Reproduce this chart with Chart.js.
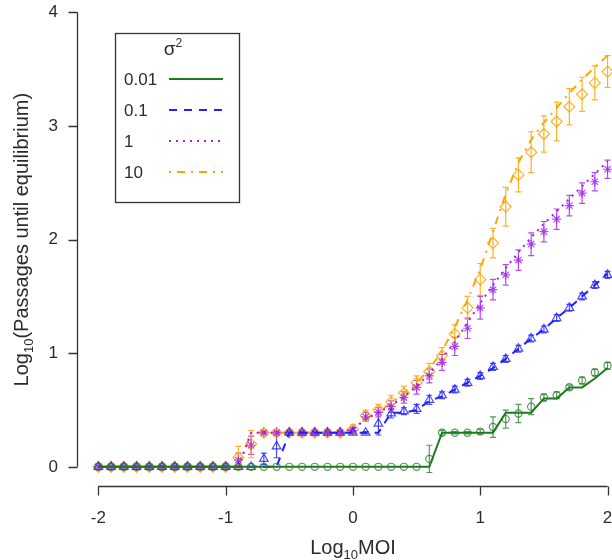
<!DOCTYPE html>
<html>
<head>
<meta charset="utf-8">
<script src="https://cdn.jsdelivr.net/npm/chart.js@4.4.0/dist/chart.umd.min.js"></script>
<style>
  html, body { margin: 0; padding: 0; background: #fff; overflow: hidden; }
  #moiChart { display: block; }
</style>
</head>
<body>
<canvas id="moiChart" width="612" height="560" style="width:612px;height:560px"></canvas>
<script>
// log10 MOI grid, one simulation per 0.1 step
const logMoi = [
  -2.0, -1.9, -1.8, -1.7, -1.6, -1.5, -1.4, -1.3, -1.2, -1.1,
  -1.0, -0.9, -0.8, -0.7, -0.6, -0.5, -0.4, -0.3, -0.2, -0.1,
   0.0,  0.1,  0.2,  0.3,  0.4,  0.5,  0.6,  0.7,  0.8,  0.9,
   1.0,  1.1,  1.2,  1.3,  1.4,  1.5,  1.6,  1.7,  1.8,  1.9, 2.0
];
const xTicks = [-2, -1, 0, 1, 2];
const yTicks = [0, 1, 2, 3, 4];
const sigmaLabels = ['0.01', '0.1', '1', '10'];

// sigma^2 = 0.01
const curve001 = [
  0, 0, 0, 0, 0, 0, 0, 0, 0, 0,
  0, 0, 0, 0, 0, 0, 0, 0, 0, 0,
  0, 0, 0, 0, 0, 0, 0, 0.301, 0.301, 0.301,
  0.301, 0.301, 0.477, 0.477, 0.477, 0.602, 0.602, 0.699, 0.699, 0.778, 0.87
];
const mean001 = [
  0, 0, 0, 0, 0, 0, 0, 0, 0, 0,
  0, 0, 0, 0, 0, 0, 0, 0, 0, 0,
  0, 0, 0, 0, 0, 0, 0.07, 0.30, 0.30, 0.30,
  0.31, 0.35, 0.42, 0.47, 0.53, 0.61, 0.63, 0.70, 0.76, 0.83, 0.89
];
const err001 = [
  0, 0, 0, 0, 0, 0, 0, 0, 0, 0,
  0, 0, 0, 0, 0, 0, 0, 0, 0, 0,
  0, 0, 0, 0, 0, 0, 0.12, 0.02, 0.01, 0.01,
  0.02, 0.09, 0.08, 0.08, 0.07, 0.03, 0.03, 0.02, 0.03, 0.03, 0.03
];

// sigma^2 = 0.1
const curve01 = [
  0, 0, 0, 0, 0, 0, 0, 0, 0, 0,
  0, 0, 0, 0, 0, 0.301, 0.301, 0.301, 0.301, 0.301,
  0.301, 0.301, 0.301, 0.477, 0.477, 0.50, 0.58, 0.62, 0.68, 0.74,
  0.80, 0.87, 0.95, 1.04, 1.13, 1.21, 1.31, 1.40, 1.50, 1.60, 1.70
];
const mean01 = [
  0, 0, 0, 0, 0, 0, 0, 0, 0, 0,
  0, 0, 0, 0.07, 0.18, 0.30, 0.30, 0.30, 0.30, 0.30,
  0.30, 0.30, 0.38, 0.47, 0.49, 0.51, 0.59, 0.63, 0.68, 0.74,
  0.80, 0.88, 0.95, 1.04, 1.13, 1.21, 1.31, 1.40, 1.50, 1.60, 1.69
];
const err01 = [
  0, 0, 0, 0, 0, 0, 0, 0, 0, 0,
  0, 0, 0, 0.05, 0.10, 0.01, 0.01, 0.01, 0.01, 0.01,
  0.01, 0.01, 0.10, 0.04, 0.03, 0.04, 0.04, 0.03, 0.03, 0.03,
  0.03, 0.03, 0.03, 0.03, 0.03, 0.03, 0.03, 0.03, 0.03, 0.03, 0.03
];

// sigma^2 = 1
const curve1 = [
  0, 0, 0, 0, 0, 0, 0, 0, 0, 0,
  0, 0, 0.301, 0.301, 0.301, 0.301, 0.301, 0.301, 0.301, 0.301,
  0.33, 0.42, 0.48, 0.54, 0.62, 0.71, 0.82, 0.95, 1.10, 1.27,
  1.44, 1.60, 1.75, 1.89, 2.02, 2.14, 2.25, 2.36, 2.47, 2.58, 2.69
];
const mean1 = [
  0, 0, 0, 0, 0, 0, 0, 0, 0, 0,
  0, 0.06, 0.19, 0.30, 0.30, 0.30, 0.30, 0.30, 0.30, 0.30,
  0.32, 0.44, 0.48, 0.53, 0.61, 0.70, 0.80, 0.92, 1.06, 1.22,
  1.40, 1.56, 1.69, 1.82, 1.96, 2.07, 2.18, 2.30, 2.41, 2.51, 2.62
];
const err1 = [
  0, 0, 0, 0, 0, 0, 0, 0, 0, 0,
  0, 0.06, 0.08, 0.01, 0.01, 0.01, 0.01, 0.01, 0.01, 0.01,
  0.03, 0.04, 0.04, 0.05, 0.05, 0.06, 0.06, 0.07, 0.08, 0.09,
  0.10, 0.09, 0.09, 0.09, 0.10, 0.09, 0.09, 0.09, 0.09, 0.08, 0.08
];

// sigma^2 = 10
const curve10 = [
  0, 0, 0, 0, 0, 0, 0, 0, 0, 0,
  0, 0, 0.301, 0.301, 0.301, 0.301, 0.301, 0.301, 0.301, 0.301,
  0.34, 0.42, 0.49, 0.56, 0.65, 0.74, 0.86, 1.02, 1.23, 1.47,
  1.74, 2.07, 2.40, 2.68, 2.88, 3.03, 3.16, 3.29, 3.41, 3.52, 3.62
];
const mean10 = [
  0, 0, 0, 0, 0, 0, 0, 0, 0, 0,
  0, 0.08, 0.20, 0.30, 0.30, 0.30, 0.30, 0.30, 0.30, 0.30,
  0.33, 0.45, 0.50, 0.57, 0.65, 0.74, 0.84, 0.98, 1.17, 1.40,
  1.65, 1.97, 2.29, 2.57, 2.77, 2.93, 3.04, 3.17, 3.28, 3.38, 3.48
];
const err10 = [
  0, 0, 0, 0, 0, 0, 0, 0, 0, 0,
  0, 0.10, 0.12, 0.02, 0.02, 0.02, 0.02, 0.02, 0.02, 0.02,
  0.04, 0.05, 0.05, 0.06, 0.06, 0.06, 0.07, 0.07, 0.08, 0.10,
  0.14, 0.13, 0.17, 0.15, 0.18, 0.16, 0.17, 0.16, 0.15, 0.15, 0.14
];

const FONT = '"Liberation Sans", Arial, Helvetica, sans-serif';
const INK = '#2b2b2b';

const series = [
  { label: sigmaLabels[0], curve: curve001, mean: mean001, err: err001,
    color: '#1e7a1e', marker: 'rgba(30,122,30,0.75)', dash: [], style: 'circle', r: 3.6 },
  { label: sigmaLabels[1], curve: curve01, mean: mean01, err: err01,
    color: '#1f1fff', marker: 'rgba(31,31,255,0.8)', dash: [8, 7], style: 'triangle', r: 5 },
  { label: sigmaLabels[2], curve: curve1, mean: mean1, err: err1,
    color: '#a020f0', marker: 'rgba(160,32,240,0.8)', dash: [2, 5], style: 'star', r: 4.5 },
  { label: sigmaLabels[3], curve: curve10, mean: mean10, err: err10,
    color: '#ffa500', marker: 'rgba(255,165,0,0.85)', dash: [2, 6, 8, 6], style: 'rectRot', r: 5.5 }
];

const datasets = [];
series.forEach(s => {
  datasets.push({
    type: 'line',
    data: logMoi.map((x, i) => ({ x, y: s.curve[i] })),
    borderColor: s.color,
    borderWidth: 2,
    borderDash: s.dash,
    pointRadius: 0,
    fill: false,
    tension: 0,
    clip: false
  });
  datasets.push({
    type: 'scatter',
    data: logMoi.map((x, i) => ({ x, y: s.mean[i] })),
    errors: s.err,
    showLine: false,
    pointStyle: s.style,
    pointRadius: s.r,
    borderColor: s.marker,
    backgroundColor: 'rgba(0,0,0,0)',
    borderWidth: 1.2,
    clip: false
  });
});

// text run with sub/superscript pieces
function drawScripted(ctx, parts, x, y, align) {
  let total = 0;
  parts.forEach(p => { ctx.font = p.size + 'px ' + FONT; p.w = ctx.measureText(p.t).width; total += p.w; });
  let cx = align === 'center' ? x - total / 2 : x;
  ctx.textAlign = 'left';
  ctx.textBaseline = 'alphabetic';
  parts.forEach(p => {
    ctx.font = p.size + 'px ' + FONT;
    ctx.fillText(p.t, cx, y + (p.dy || 0));
    cx += p.w;
  });
}

const rAxes = {
  id: 'rAxes',
  beforeDatasetsDraw(chart) {
    // error bars sit under the markers
    const { ctx, scales: { x, y } } = chart;
    ctx.save();
    chart.data.datasets.forEach(ds => {
      if (!ds.errors) return;
      ctx.strokeStyle = ds.borderColor;
      ctx.lineWidth = 1.2;
      ds.data.forEach((p, i) => {
        const e = ds.errors[i];
        if (!e) return;
        const px = x.getPixelForValue(p.x);
        const top = y.getPixelForValue(p.y + e);
        const bot = y.getPixelForValue(p.y - e);
        ctx.beginPath();
        ctx.moveTo(px, top); ctx.lineTo(px, bot);
        ctx.moveTo(px - 3, top); ctx.lineTo(px + 3, top);
        ctx.moveTo(px - 3, bot); ctx.lineTo(px + 3, bot);
        ctx.stroke();
      });
    });
    ctx.restore();
  },
  afterDraw(chart) {
    const { ctx, chartArea: a, scales: { x, y } } = chart;
    ctx.save();
    ctx.strokeStyle = '#333';
    ctx.lineWidth = 1.3;

    // y axis, tick range only
    const yl = Math.round(a.left) - 0.5;
    ctx.beginPath();
    ctx.moveTo(yl, y.getPixelForValue(yTicks[0]));
    ctx.lineTo(yl, y.getPixelForValue(yTicks[yTicks.length - 1]));
    yTicks.forEach(v => {
      const py = Math.round(y.getPixelForValue(v)) + 0.5;
      ctx.moveTo(yl, py); ctx.lineTo(yl - 9, py);
    });
    ctx.stroke();

    // x axis
    const xb = Math.round(a.bottom) + 1.5;
    ctx.beginPath();
    ctx.moveTo(x.getPixelForValue(xTicks[0]), xb);
    ctx.lineTo(x.getPixelForValue(xTicks[xTicks.length - 1]), xb);
    xTicks.forEach(v => {
      const px = Math.round(x.getPixelForValue(v)) + 0.5;
      ctx.moveTo(px, xb); ctx.lineTo(px, xb + 9);
    });
    ctx.stroke();

    // axis titles
    ctx.fillStyle = INK;
    drawScripted(ctx, [
      { t: 'Log', size: 20 }, { t: '10', size: 13, dy: 5 }, { t: 'MOI', size: 20 }
    ], x.getPixelForValue(0), 554, 'center');

    ctx.save();
    ctx.translate(28, (y.getPixelForValue(-0.16) + y.getPixelForValue(4.16)) / 2);
    ctx.rotate(-Math.PI / 2);
    drawScripted(ctx, [
      { t: 'Log', size: 20 }, { t: '10', size: 13, dy: 5 },
      { t: '(Passages until equilibrium)', size: 20 }
    ], 0, 0, 'center');
    ctx.restore();

    // legend box
    const bx = 115.5, by = 33.5, bw = 124, bh = 169;
    ctx.lineWidth = 1.3;
    ctx.strokeStyle = '#333';
    ctx.strokeRect(bx, by, bw, bh);
    ctx.fillStyle = INK;
    drawScripted(ctx, [{ t: '\u03c3', size: 19 }, { t: '2', size: 12, dy: -8 }], 173, 55, 'center');
    series.forEach((s, i) => {
      const ly = 79 + i * 31;
      ctx.fillStyle = INK;
      ctx.font = '17px ' + FONT;
      ctx.textAlign = 'left';
      ctx.textBaseline = 'middle';
      ctx.fillText(s.label, 124, ly + 1);
      ctx.strokeStyle = s.color;
      ctx.lineWidth = 2;
      ctx.setLineDash(s.dash);
      ctx.beginPath();
      ctx.moveTo(169, ly); ctx.lineTo(223, ly);
      ctx.stroke();
      ctx.setLineDash([]);
    });
    ctx.restore();
  }
};

new Chart(document.getElementById('moiChart'), {
  type: 'scatter',
  data: { datasets },
  plugins: [rAxes],
  options: {
    responsive: false,
    animation: false,
    layout: { padding: 0, autoPadding: false },
    plugins: { legend: { display: false }, tooltip: { enabled: false } },
    scales: {
      x: {
        type: 'linear', min: -2.16, max: 2.035,
        grid: { display: false, drawTicks: false },
        border: { display: false },
        afterBuildTicks: s => { s.ticks = xTicks.map(v => ({ value: v })); },
        afterFit: s => { s.height = 75; s.paddingLeft = 0; s.paddingRight = 0; },
        ticks: { font: { family: FONT, size: 17 }, color: INK, padding: 23, maxRotation: 0 }
      },
      y: {
        type: 'linear', min: -0.16, max: 4.11,
        grid: { display: false, drawTicks: false },
        border: { display: false },
        afterBuildTicks: s => { s.ticks = yTicks.map(v => ({ value: v })); },
        afterFit: s => { s.width = 78; s.paddingTop = 0; s.paddingBottom = 0; },
        ticks: { font: { family: FONT, size: 17 }, color: INK, padding: 20 }
      }
    }
  }
});
</script>
</body>
</html>
